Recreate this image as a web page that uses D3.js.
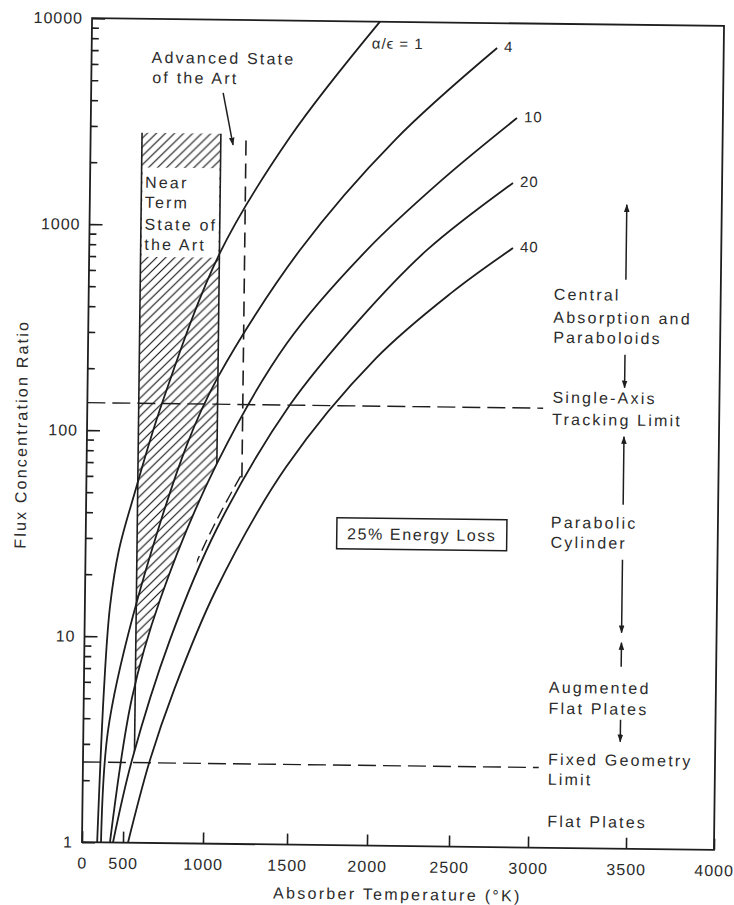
<!DOCTYPE html>
<html>
<head>
<meta charset="utf-8">
<script src="https://cdn.jsdelivr.net/npm/d3@7"></script>
<style>
  body { margin: 0; background: #fff; }
  svg { display: block; }
  text { font-family: "Liberation Sans", Arial, sans-serif; fill: #2b2b2b; }
</style>
</head>
<body>
<svg id="chart" width="734" height="905"></svg>
<script>
// ---- data -------------------------------------------------------------
const xTickValues = [0, 500, 1000, 1500, 2000, 2500, 3000, 3500, 4000];
const yTickValues = [1, 10, 100, 1000, 10000];
const curveRatios = [1, 4, 10, 20, 40];

// absorber temperature (K) and flux concentration ratio for each alpha/epsilon
const alphaEps1Temp  = [185, 245, 306, 407, 548, 710, 1058, 1467, 2018];
const alphaEps1Flux  = [1, 5.5, 13.9, 26.3, 50.4, 136, 738, 2720, 10000];
const alphaEps4Temp  = [232, 300, 545, 869, 1055, 1536, 2118, 2743];
const alphaEps4Flux  = [1, 3.47, 12.6, 86, 184, 771, 2670, 7570];
const alphaEps10Temp = [341, 545, 712, 1055, 1464, 1955, 2408, 2874];
const alphaEps10Flux = [1, 5.04, 15.1, 70, 272, 779, 1720, 3470];
const alphaEps20Temp = [378, 550, 778, 1061, 1485, 1912, 2322, 2854];
const alphaEps20Flux = [1, 2.52, 9.7, 34, 136, 356, 785, 1680];
const alphaEps40Temp = [531, 662, 807, 1058, 1467, 2018, 2477, 2859];
const alphaEps40Flux = [1, 2.52, 5.54, 17, 68, 232, 490, 811];

// state-of-the-art temperature bands (K) and their upper concentration
const nearTermTemp = [565, 1055];
const nearTermTop = 2800;
const nearTermTextBand = [700, 1900];
const advancedTemp = [565, 1205];
const advancedTop = 2600;
const advancedDashedFrom = 940;

// concentration limits of collector types
const singleAxisLimit = 136;
const fixedGeometryLimit = 2.45;
const limitLineEnd = 3050;

// ---- layout -----------------------------------------------------------
const W = 632, H = 824;
const xAxisStops = [0, 41, 121, 205, 285, 367, 446, 544, 632]; // drawn spacing of the temperature axis
const ink = "#1e1e1e";

const x = d3.scaleLinear().domain(xTickValues).range(xAxisStops);
const y = d3.scaleLog().domain([1, 10000]).range([H, 0]);

const series = [
  { ratio: curveRatios[0], temp: alphaEps1Temp,  flux: alphaEps1Flux },
  { ratio: curveRatios[1], temp: alphaEps4Temp,  flux: alphaEps4Flux },
  { ratio: curveRatios[2], temp: alphaEps10Temp, flux: alphaEps10Flux },
  { ratio: curveRatios[3], temp: alphaEps20Temp, flux: alphaEps20Flux },
  { ratio: curveRatios[4], temp: alphaEps40Temp, flux: alphaEps40Flux }
].map(s => ({ ratio: s.ratio, pts: s.temp.map((t, i) => ({ t, c: s.flux[i] })) }));
const byRatio = r => series.find(s => s.ratio === r).pts;

const smooth = d3.curveCatmullRom.alpha(0.5);
const line = d3.line().x(d => x(d.t)).y(d => y(d.c)).curve(smooth);
const areaAbove = d3.area().x(d => x(d.t)).y0(-5).y1(d => y(d.c)).curve(smooth);

const svg = d3.select("#chart");
const defs = svg.append("defs");

// diagonal hatching
const pat = defs.append("pattern").attr("id", "hatch")
  .attr("patternUnits", "userSpaceOnUse").attr("width", 9).attr("height", 9);
pat.append("path").attr("d", "M-1,1 l2,-2 M0,9 l9,-9 M8,10 l2,-2")
  .attr("stroke", "#111").attr("stroke-width", 1.1);

// arrow heads
defs.append("marker").attr("id", "head").attr("viewBox", "0 0 10 10")
  .attr("refX", 9).attr("refY", 5).attr("markerWidth", 8).attr("markerHeight", 9)
  .attr("markerUnits", "userSpaceOnUse").attr("orient", "auto")
  .append("path").attr("d", "M0,1.5 L10,5 L0,8.5 Z").attr("fill", ink);

// clip regions above given curves
defs.append("clipPath").attr("id", "above10").append("path").attr("d", areaAbove(byRatio(10)));
defs.append("clipPath").attr("id", "above20").append("path").attr("d", areaAbove(byRatio(20)));
defs.append("clipPath").attr("id", "nearBand").append("rect")
  .attr("x", x(nearTermTemp[0])).attr("y", y(nearTermTop))
  .attr("width", x(nearTermTemp[1]) - x(nearTermTemp[0])).attr("height", H - y(nearTermTop));
defs.append("clipPath").attr("id", "dashSpan").append("rect")
  .attr("x", x(advancedDashedFrom)).attr("y", 0)
  .attr("width", x(advancedTemp[1]) - x(advancedDashedFrom)).attr("height", H);
defs.append("clipPath").attr("id", "plotClip").append("rect")
  .attr("x", 0).attr("y", 0).attr("width", W).attr("height", H);

// whole sheet sits slightly turned
const root = svg.append("g").attr("transform", "rotate(0.7,403,434)");
const plot = root.append("g").attr("transform", "translate(87,22)");

// ---- near-term hatched band ------------------------------------------
const hatchG = plot.append("g").attr("clip-path", "url(#nearBand)")
  .append("g").attr("clip-path", "url(#above10)");
hatchG.append("rect").attr("x", 0).attr("y", 0).attr("width", W).attr("height", H)
  .attr("fill", "url(#hatch)");
hatchG.append("rect")
  .attr("x", x(nearTermTemp[0]) + 1).attr("y", y(nearTermTextBand[1]))
  .attr("width", x(nearTermTemp[1]) - x(nearTermTemp[0]) - 2)
  .attr("height", y(nearTermTextBand[0]) - y(nearTermTextBand[1]))
  .attr("fill", "#fff");

// band edges
plot.append("line").attr("clip-path", "url(#above20)")
  .attr("x1", x(nearTermTemp[0])).attr("x2", x(nearTermTemp[0]))
  .attr("y1", y(nearTermTop)).attr("y2", H)
  .attr("stroke", ink).attr("stroke-width", 1.6);
plot.append("line").attr("clip-path", "url(#above10)")
  .attr("x1", x(nearTermTemp[1])).attr("x2", x(nearTermTemp[1]))
  .attr("y1", y(nearTermTop)).attr("y2", H)
  .attr("stroke", ink).attr("stroke-width", 1.6);
plot.append("line").attr("clip-path", "url(#above20)")
  .attr("x1", x(advancedTemp[1])).attr("x2", x(advancedTemp[1]))
  .attr("y1", y(advancedTop)).attr("y2", H)
  .attr("stroke", ink).attr("stroke-width", 1.6).attr("stroke-dasharray", "15,8");
plot.append("g").attr("clip-path", "url(#dashSpan)")
  .append("path").attr("d", line(byRatio(20)))
  .attr("transform", "translate(-4,-1)")
  .attr("fill", "none").attr("stroke", ink).attr("stroke-width", 1.4)
  .attr("stroke-dasharray", "12,6");

// ---- limit lines -------------------------------------------------------
[singleAxisLimit, fixedGeometryLimit].forEach(v => {
  plot.append("line")
    .attr("x1", 0).attr("x2", x(limitLineEnd))
    .attr("y1", y(v)).attr("y2", y(v))
    .attr("stroke", ink).attr("stroke-width", 1.4).attr("stroke-dasharray", "18,7");
});

// ---- curves --------------------------------------------------------------
const curvesG = plot.append("g").attr("clip-path", "url(#plotClip)");
series.forEach(s => {
  curvesG.append("path").attr("d", line(s.pts))
    .attr("fill", "none").attr("stroke", ink).attr("stroke-width", 1.8);
});
series.filter(s => s.ratio !== 1).forEach(s => {
  const end = s.pts[s.pts.length - 1];
  plot.append("text").attr("x", x(end.t) + 7).attr("y", y(end.c) + 4)
    .attr("font-size", 15).attr("letter-spacing", 1).text(s.ratio);
});
plot.append("text").attr("x", 280).attr("y", 27)
  .attr("font-size", 15).attr("letter-spacing", 1).text("α/ϵ = 1");

// ---- axes ----------------------------------------------------------------
const minorTicks = y.ticks().filter(v => !yTickValues.includes(v));
plot.append("g")
  .call(d3.axisLeft(y).tickValues(minorTicks).tickSize(-7).tickFormat(""))
  .call(g => g.select(".domain").remove())
  .selectAll("line").attr("stroke", ink).attr("stroke-width", 1.6);
const yAxisG = plot.append("g")
  .call(d3.axisLeft(y).tickValues(yTickValues).tickSize(-13).tickPadding(9)
    .tickFormat(d3.format("d")))
  .call(g => g.select(".domain").remove());
yAxisG.selectAll("line").attr("stroke", ink).attr("stroke-width", 1.6);
yAxisG.selectAll("text").attr("font-size", 16).attr("letter-spacing", 1)
  .attr("font-family", "Liberation Sans, Arial, sans-serif").attr("fill", "#2b2b2b");

const xAxisG = plot.append("g").attr("transform", `translate(0,${H})`)
  .call(d3.axisBottom(x).tickValues(xTickValues).tickSize(-11).tickPadding(15)
    .tickFormat(d3.format("d")))
  .call(g => g.select(".domain").remove());
xAxisG.selectAll("line").attr("stroke", ink).attr("stroke-width", 1.6);
xAxisG.selectAll("text").attr("font-size", 16).attr("letter-spacing", 1)
  .attr("font-family", "Liberation Sans, Arial, sans-serif").attr("fill", "#2b2b2b");

plot.append("rect").attr("x", 0).attr("y", 0).attr("width", W).attr("height", H)
  .attr("fill", "none").attr("stroke", ink).attr("stroke-width", 1.8);

plot.append("text").attr("x", W / 2).attr("y", H + 54).attr("text-anchor", "middle")
  .attr("font-size", 16).attr("letter-spacing", 2.3).text("Absorber Temperature (°K)");
plot.append("text").attr("transform", `translate(-60,${H / 2 + 5}) rotate(-90)`)
  .attr("text-anchor", "middle").attr("font-size", 16).attr("letter-spacing", 2.2)
  .text("Flux Concentration Ratio");

// ---- annotations -------------------------------------------------------
const noteStyle = sel => sel.attr("font-size", 16).attr("letter-spacing", 2.2);
const notes = [
  ["Advanced State", 60, 44], ["of the Art", 61, 64],
  ["Near", 55, 169], ["Term", 55, 189], ["State of", 55, 211], ["the Art", 55, 231],
  ["Central", 465, 276], ["Absorption and", 465, 299], ["Paraboloids", 465, 319],
  ["Single-Axis", 465, 379], ["Tracking Limit", 465, 401],
  ["Parabolic", 465, 504], ["Cylinder", 465, 524],
  ["Augmented", 465, 669], ["Flat Plates", 465, 690],
  ["Fixed Geometry", 465, 741], ["Limit", 465, 761],
  ["Flat Plates", 465, 803]
];
notes.forEach(([t, nx, ny]) => noteStyle(plot.append("text").attr("x", nx).attr("y", ny).text(t)));

const arrows = [
  [132, 73, 142.5, 125],
  [537, 255, 537, 180], [537, 330, 537, 363], [537, 480, 537, 412],
  [537, 535, 537, 608], [537, 642, 537, 618], [537, 695, 537, 717]
];
arrows.forEach(([x1, y1, x2, y2]) => {
  plot.append("line").attr("x1", x1).attr("y1", y1).attr("x2", x2).attr("y2", y2)
    .attr("stroke", ink).attr("stroke-width", 1.5).attr("marker-end", "url(#head)");
});

// energy-loss box
const box = plot.append("g").attr("transform", "translate(336,512)");
box.append("rect").attr("x", -85).attr("y", -15.5).attr("width", 170).attr("height", 31)
  .attr("fill", "#fff").attr("stroke", ink).attr("stroke-width", 1.5);
box.append("text").attr("text-anchor", "middle").attr("y", 6)
  .attr("font-size", 16).attr("letter-spacing", 1.6).text("25% Energy Loss");
</script>
</body>
</html>
